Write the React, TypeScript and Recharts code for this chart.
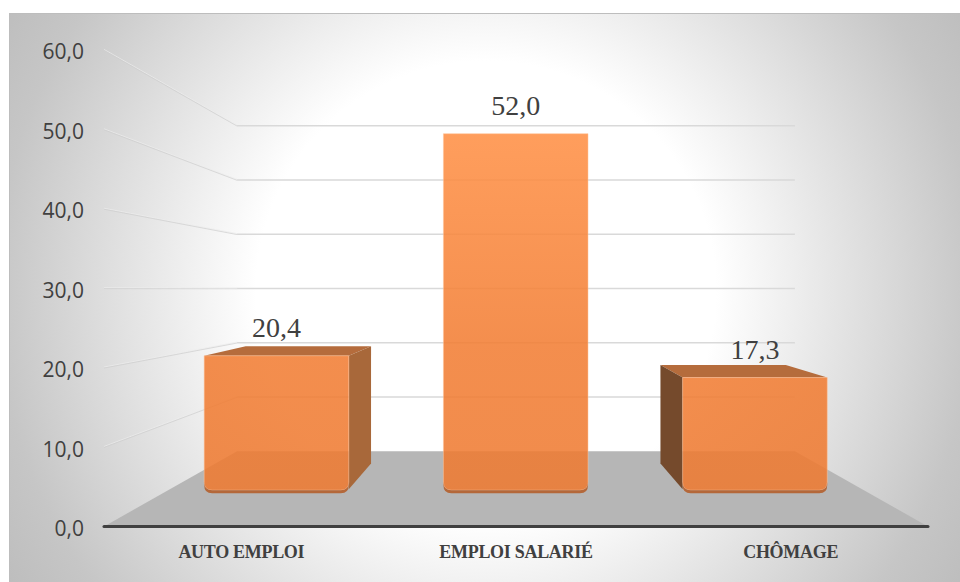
import React from 'react';
import { BarChart, Bar, XAxis, YAxis, CartesianGrid, LabelList } from 'recharts';

const categories = ['AUTO EMPLOI', 'EMPLOI SALARIÉ', 'CHÔMAGE'];
const values = [20.4, 52.0, 17.3];
const yTicks = [0, 10, 20, 30, 40, 50, 60];

const data = categories.map((name, i) => ({ name, value: values[i] }));

// front plane of the 3D box, everything else is projected from it
const PLOT_LEFT = 104;
const PLOT_WIDTH = 824;
const PLOT_TOP = 50;
const PLOT_HEIGHT = 476.5;
const CENTER_X = PLOT_LEFT + PLOT_WIDTH / 2;
const HORIZON_Y = PLOT_TOP + PLOT_HEIGHT / 2 + 0.5;

const WALL_X = 0.677;
const WALL_Y = 0.683;
const BAR_FRONT_X = 0.871;
const BAR_FRONT_Y = 0.885;
const BAR_BACK_X = 0.755;
const BAR_BACK_Y = 0.76;
const BEVEL_LIFT = 6;

const projX = (x: number, s: number) => CENTER_X + (x - CENTER_X) * s;
const projY = (y: number, s: number) => HORIZON_Y + (y - HORIZON_Y) * s;
const fmt = (v: number) => v.toFixed(1).replace('.', ',');

function GridLine(props: any) {
  const { y1, key } = props;
  const backY = projY(y1, WALL_Y);
  const backLeft = projX(PLOT_LEFT, WALL_X);
  const backRight = projX(PLOT_LEFT + PLOT_WIDTH, WALL_X);
  if (Math.abs(y1 - (PLOT_TOP + PLOT_HEIGHT)) < 1) {
    return (
      <polygon
        key={key}
        points={`${PLOT_LEFT},${y1} ${PLOT_LEFT + PLOT_WIDTH},${y1} ${backRight},${backY} ${backLeft},${backY}`}
        fill="#b6b6b6"
      />
    );
  }
  return (
    <g key={key} fill="none">
      <line x1={PLOT_LEFT} y1={y1 - 0.6} x2={backLeft} y2={backY - 0.6} stroke="#ececec" strokeWidth={1} strokeOpacity={0.7} />
      <line x1={PLOT_LEFT} y1={y1 + 0.4} x2={backLeft} y2={backY + 0.4} stroke="#cdcdcd" strokeWidth={1} strokeOpacity={0.7} />
      <line x1={backLeft} y1={backY} x2={backRight} y2={backY} stroke="#d9d9d9" strokeWidth={1.5} />
    </g>
  );
}

function Box3D(props: any) {
  const { x, y, width, height } = props;
  const base = y + height;
  const fl = projX(x, BAR_FRONT_X);
  const fr = projX(x + width, BAR_FRONT_X);
  const bl = projX(x, BAR_BACK_X);
  const br = projX(x + width, BAR_BACK_X);
  const ft = projY(y, BAR_FRONT_Y);
  const bt = projY(y, BAR_BACK_Y);
  const fb = projY(base, BAR_FRONT_Y) - BEVEL_LIFT;
  const bb = projY(base, BAR_BACK_Y) - BEVEL_LIFT;
  const r = 8;
  const inner = fb - 3;
  return (
    <g>
      {bt > ft ? null : (
        <polygon points={`${fl},${ft} ${fr},${ft} ${br},${bt} ${bl},${bt}`} fill="#b56c3c" />
      )}
      {br > fr && (
        <polygon points={`${fr},${ft} ${br},${bt} ${br},${bb} ${fr},${fb - 4}`} fill="#a8683a" />
      )}
      {bl < fl && (
        <polygon points={`${fl},${ft} ${bl},${bt} ${bl},${bb} ${fl},${fb - 4}`} fill="#754a2c" />
      )}
      <path
        d={`M${fl},${ft} L${fr},${ft} L${fr},${inner - r} Q${fr},${inner} ${fr - r},${inner} L${fl + r},${inner} Q${fl},${inner} ${fl},${inner - r} Z`}
        fill="url(#barFace)"
        stroke="#ffc49a"
        strokeOpacity={0.5}
        strokeWidth={1}
      />
      <path
        d={`M${fl},${inner - r} Q${fl},${inner} ${fl + r},${inner} L${fr - r},${inner} Q${fr},${inner} ${fr},${inner - r} L${fr},${fb - r} Q${fr},${fb} ${fr - r},${fb} L${fl + r},${fb} Q${fl},${fb} ${fl},${fb - r} Z`}
        fill="#b4683a"
      />
    </g>
  );
}

function BarValue(props: any) {
  const { x, y, width, value } = props;
  return (
    <text
      x={projX(x + width / 2, BAR_FRONT_X)}
      y={projY(y, BAR_FRONT_Y) - 19}
      textAnchor="middle"
      fontFamily="Liberation Serif"
      fontSize={28}
      fill="#404040"
    >
      {fmt(value)}
    </text>
  );
}

export default function App() {
  return (
    <div style={{ position: 'absolute', left: 0, top: 0, width: 960, height: 582, background: '#fff' }}>
      <div
        style={{
          position: 'absolute',
          left: 9,
          top: 13,
          right: 0,
          bottom: 0,
          borderLeft: '1.5px solid #bdbdbd',
          borderTop: '1.5px solid #bdbdbd',
          background:
            'radial-gradient(circle at 476px 277px, #fff 0, #fff 230px, #c6c6c6 490px, #bcbcbc 570px)',
        }}
      />
      <div style={{ position: 'absolute', left: 0, top: 0 }}>
        <BarChart
          width={960}
          height={582}
          data={data}
          margin={{ top: PLOT_TOP, left: PLOT_LEFT - 80, right: 960 - PLOT_LEFT - PLOT_WIDTH, bottom: 15.5 }}
        >
          <defs>
            <linearGradient id="barFace" gradientUnits="userSpaceOnUse" x1="0" y1="135" x2="0" y2="490">
              <stop offset="0" stopColor="#ff8f44" stopOpacity={0.87} />
              <stop offset="0.6" stopColor="#f27d33" stopOpacity={0.87} />
              <stop offset="1" stopColor="#ee7a31" stopOpacity={0.87} />
            </linearGradient>
          </defs>
          <CartesianGrid vertical={false} horizontal={GridLine as any} />
          <XAxis
            dataKey="name"
            height={40}
            axisLine={{ stroke: '#404040', strokeWidth: 3, strokeLinecap: 'round' }}
            tickLine={false}
            tickMargin={13}
            interval={0}
            tick={{ fontFamily: 'Liberation Serif', fontWeight: 700, fontSize: 18, letterSpacing: -0.3, fill: '#404040' }}
          />
          <YAxis
            width={80}
            domain={[0, 60]}
            ticks={yTicks}
            axisLine={false}
            tickLine={false}
            tickMargin={14}
            tickFormatter={fmt}
            dy={2}
            tick={{ fontFamily: 'Open Sans', fontSize: 21, fill: '#404040' }}
          />
          <Bar dataKey="value" barSize={166} shape={Box3D} isAnimationActive={false}>
            <LabelList dataKey="value" content={BarValue as any} />
          </Bar>
        </BarChart>
      </div>
    </div>
  );
}
